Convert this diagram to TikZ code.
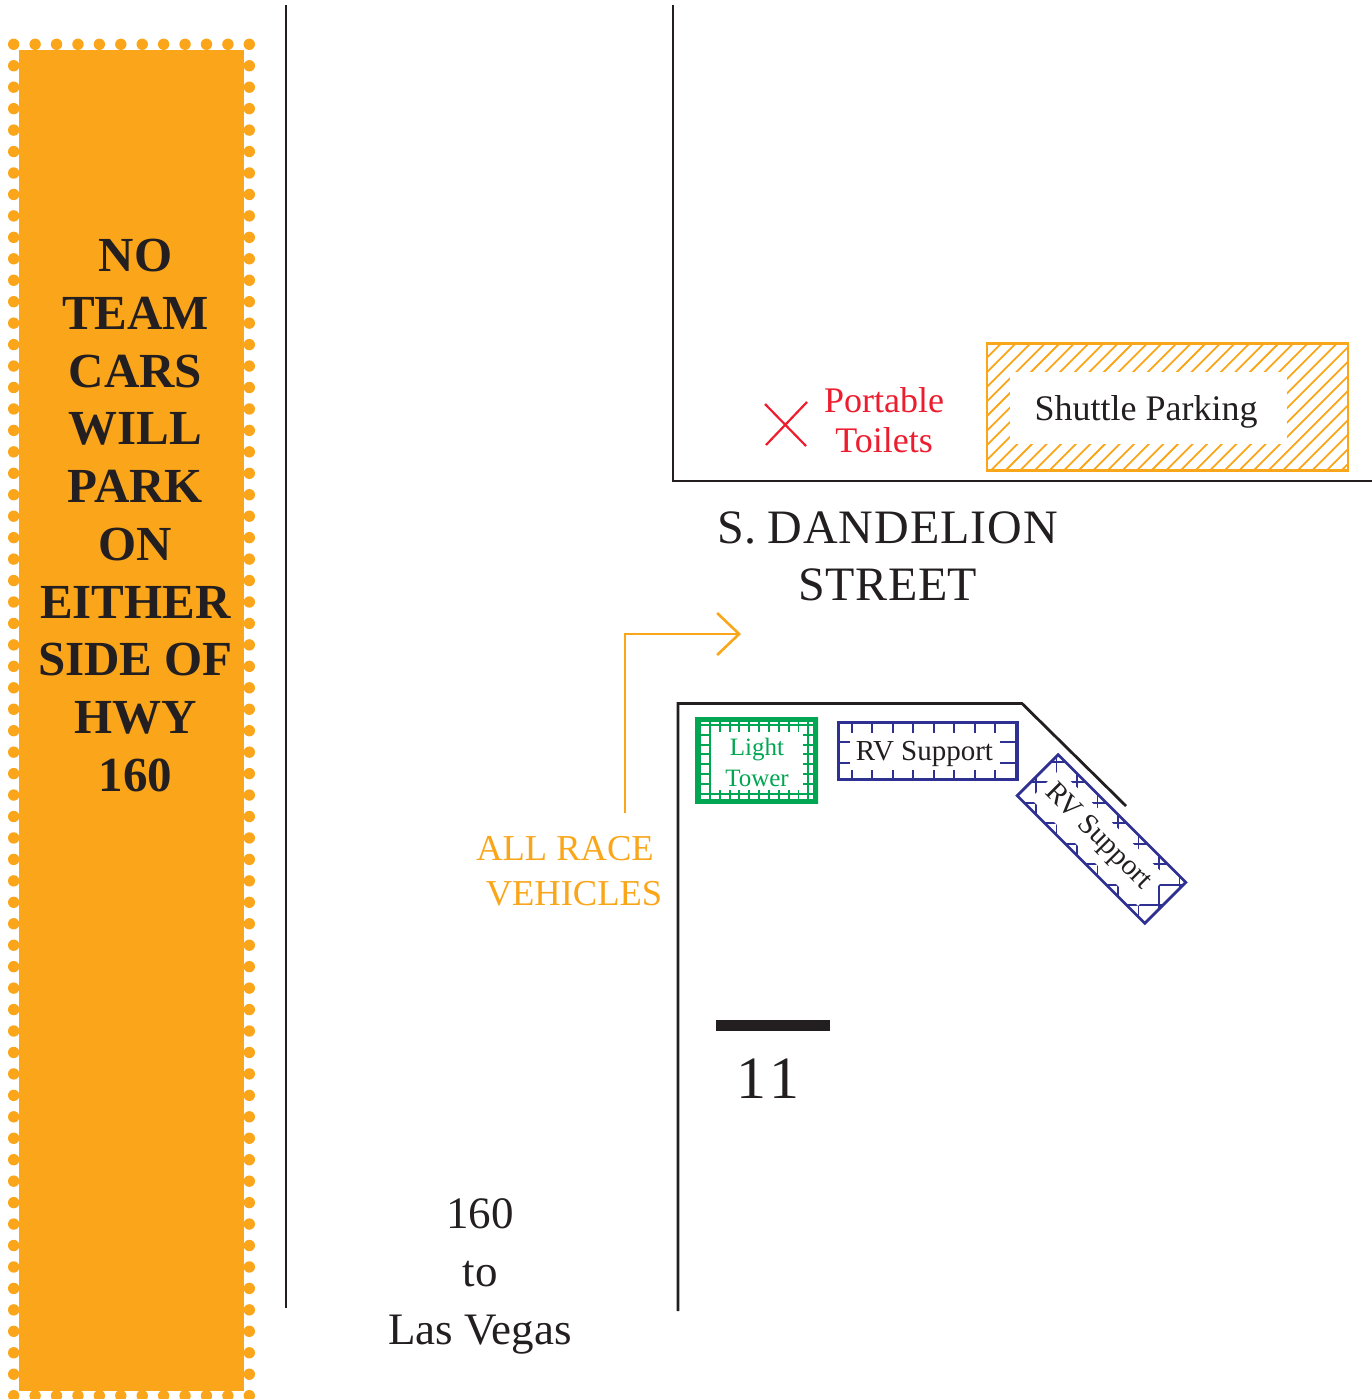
\documentclass[tikz,border=0pt]{standalone}
\usepackage{fontspec}
\setmainfont{Liberation Serif}
\usetikzlibrary{arrows.meta}
\definecolor{inkdark}{HTML}{231F20}
\definecolor{signorange}{HTML}{FBA61A}
\definecolor{lineorange}{HTML}{FAA61A}
\definecolor{mapgreen}{HTML}{00A651}
\definecolor{mapnavy}{HTML}{2E3192}
\definecolor{mapred}{HTML}{ED1C2E}
\newcommand{\fs}[2]{\fontsize{#1}{#2}\selectfont}
\tikzset{
  road/.style={draw=inkdark,line width=2.8pt,line cap=butt,line join=miter},
  label/.style={inner sep=0pt,outer sep=0pt,align=center,text=inkdark},
  gridline/.style={line width=1.9pt},
}
\begin{document}
\begin{tikzpicture}[x=1pt,y=-1pt]
\useasboundingbox (0,0) rectangle (1372,1399);
\clip (0,0) rectangle (1372,1399);
% sign
\fill[signorange] (19,50) rectangle (244,1391);
\foreach \i in {0,...,63}{
  \fill[signorange] (13.7,{44.3+21.45*\i}) circle[radius=5.7pt];
  \fill[signorange] (249.3,{44.3+21.45*\i}) circle[radius=5.7pt];
}
\foreach \i in {1,...,10}{
  \fill[signorange] ({13.7+21.42*\i},44.3) circle[radius=5.7pt];
  \fill[signorange] ({13.7+21.42*\i},1395.7) circle[radius=5.7pt];
}
\node[label,font=\bfseries\fs{49}{57.7}] (sign) at (135.5,515.5) {NO\\TEAM\\CARS\\WILL\\PARK\\ON\\EITHER\\SIDE OF\\HWY\\160};
% roads
\draw[road] (286,5) -- (286,1308);
\draw[road] (673,5) -- (673,481) -- (1372,481);
\draw[road] (678,1311) -- (678,703.5) -- (1022,703.5) -- (1126,806);
% shuttle parking
\begin{scope}
  \clip (987,343.5) rectangle (1348,470.5);
  \foreach \i in {0,...,34}{
    \draw[lineorange,line width=1.8pt] ({990+14.6*\i},340) -- ({990+14.6*\i-135},475);
  }
\end{scope}
\draw[lineorange,line width=2.8pt] (987,343.5) rectangle (1348,470.5);
\node[fill=white,minimum width=277pt,minimum height=72pt,inner sep=0pt] (shuttlebox) at (1148.5,408) {};
\node[label,font=\fs{36}{40}] (shuttle) at (1146,411.5) {Shuttle Parking};
% toilets
\coordinate (xa) at (765,404); \coordinate (xb) at (806,446);
\coordinate (xc) at (807,402); \coordinate (xd) at (766,445);
\draw[mapred,line width=2.2pt] (xa) -- (xb) (xc) -- (xd);
\node[label,text=mapred,font=\fs{36}{40}] (toilets) at (884,420.5) {Portable\\Toilets};
% street
\node[label,font=\fs{48}{57}] (street) at (888,556.5) {S.\hspace{11pt}{\addfontfeature{LetterSpace=2.2}DANDELION}\\{\addfontfeature{LetterSpace=1}STREET}};
% arrow
\coordinate (arrowstart) at (625,813);
\coordinate (arrowbend) at (625,634);
\coordinate (arrowend) at (741,634);
\draw[lineorange,line width=2.6pt,-{Straight Barb[length=22pt,width=42pt]}] (arrowstart) -- (arrowbend) -- (arrowend);
\node[label,text=lineorange,font=\fs{36.5}{45}] (vehicles) at (565,871.5) {ALL RACE\\\hspace*{18pt}VEHICLES};
% light tower
\begin{scope}
  \clip (695,717) rectangle (818,804);
  \foreach \i in {0,...,12}{
    \draw[mapgreen,gridline] ({700+9.85*\i},717) -- ({700+9.85*\i},804);
  }
  \foreach \i in {0,...,8}{
    \draw[mapgreen,gridline] (695,{725+9.8*\i}) -- (818,{725+9.8*\i});
  }
\end{scope}
\fill[white] (710.5,732) rectangle (803,790);
\draw[mapgreen,line width=5pt] (697.5,719.5) rectangle (815.5,801.5);
\node[label,text=mapgreen,font=\fs{25}{31}] (tower) at (757,762.5) {Light\\Tower};
% RV support upright
\begin{scope}
  \clip (837,721) rectangle (1018,780);
  \foreach \i in {0,...,8}{
    \draw[mapnavy,gridline] ({851.7+20.5*\i},720) -- ({851.7+20.5*\i},781);
  }
  \foreach \i in {0,1}{
    \draw[mapnavy,gridline] (836,{742.3+20.4*\i}) -- (1019,{742.3+20.4*\i});
  }
\end{scope}
\fill[white] (850,733) rectangle (1000,770);
\draw[mapnavy,line width=3pt] (838,722) rectangle (1017.5,779.5);
\node[label,font=\fs{29}{32}] (rvone) at (924.5,754) {RV Support};
% RV support rotated
\begin{scope}
  \clip[shift={(1101.5,839)},rotate=-45] (-90,-29) rectangle (90,29);
  \foreach \i in {0,...,8}{
    \draw[mapnavy,gridline] ({1036+20.5*\i},740) -- ({1036+20.5*\i},930);
  }
  \foreach \i in {0,...,8}{
    \draw[mapnavy,gridline] (1010,{741.2+20.5*\i}) -- (1190,{741.2+20.5*\i});
  }
\end{scope}
\fill[white,shift={(1101.5,839)},rotate=-45] (-78.7,-19) rectangle (73,21.5);
\draw[mapnavy,line width=2.8pt,shift={(1101.5,839)},rotate=-45,line join=miter] (-90.2,-29) rectangle (90.2,29);
\node[label,font=\fs{29}{32},rotate=-45] (rvtwo) at (1098,837) {RV Support};
% highway number
\fill[inkdark] (716,1020) rectangle (830,1031);
\node[label,font=\fs{60}{70}] (hwy) at (768,1079) {1\hspace{3pt}1};
\node[label,font=\fs{45}{58}] (vegas) at (480,1276) {160\\to\\Las Vegas};
\end{tikzpicture}
\end{document}
